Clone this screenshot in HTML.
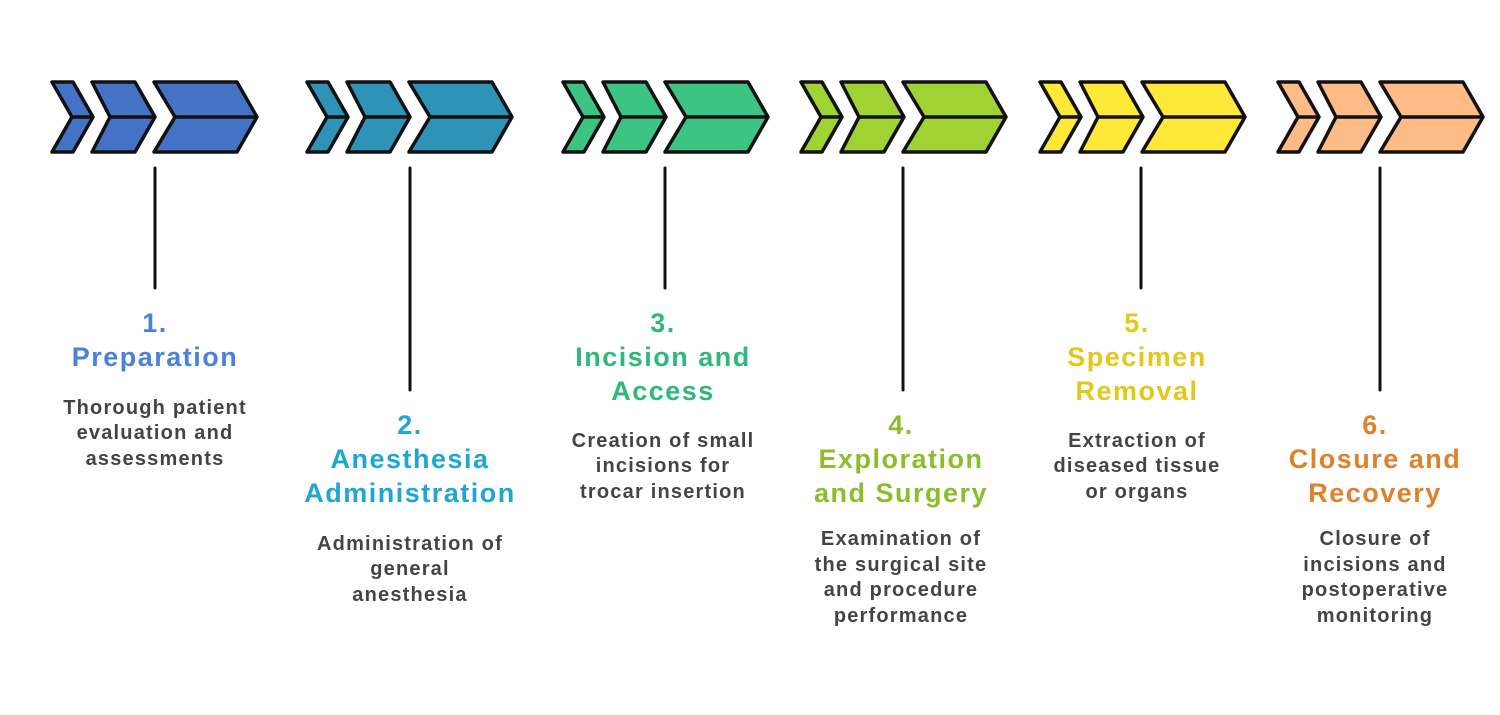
<!DOCTYPE html>
<html><head><meta charset="utf-8"><style>
html,body{margin:0;padding:0;background:#fff;}
svg{display:block;}
.t{font-family:"Liberation Sans",sans-serif;font-weight:bold;font-size:27px;letter-spacing:1.5px;text-anchor:middle;dominant-baseline:central;}
.d{font-family:"Liberation Sans",sans-serif;font-weight:bold;font-size:20px;letter-spacing:1.2px;fill:#444;text-anchor:middle;dominant-baseline:central;}
</style></head><body>
<svg width="1500" height="715" viewBox="0 0 1500 715" xmlns="http://www.w3.org/2000/svg">
<defs>
<g id="chev" stroke="#111" stroke-width="3.5" stroke-linejoin="round">
<polygon points="0,0 21,0 41,35 21,70 0,70 20,35"/>
<polygon points="40,0 83,0 103,35 83,70 40,70 58,35"/>
<polygon points="102,0 185,0 205,35 185,70 102,70 123,35"/>
<path d="M20,35 H41 M58,35 H103 M123,35 H205" fill="none"/>
</g>
</defs>
<g stroke="#111" stroke-width="3" stroke-linecap="round">
<line x1="155" y1="168" x2="155" y2="288"/>
<line x1="410" y1="168" x2="410" y2="390"/>
<line x1="665" y1="168" x2="665" y2="288"/>
<line x1="903" y1="168" x2="903" y2="390"/>
<line x1="1141" y1="168" x2="1141" y2="288"/>
<line x1="1380" y1="168" x2="1380" y2="390"/>
</g>
<use href="#chev" x="52" y="82" fill="#4472c4"/>
<use href="#chev" x="307" y="82" fill="#2e93b6"/>
<use href="#chev" x="563" y="82" fill="#3cc484"/>
<use href="#chev" x="801" y="82" fill="#9fd232"/>
<use href="#chev" x="1040" y="82" fill="#ffe838"/>
<use href="#chev" x="1278" y="82" fill="#ffbb85"/>

<text x="155" y="323" class="t" fill="#4a80e0">1.</text>
<text x="155" y="357" class="t" fill="#4a80e0">Preparation</text>
<text class="d" x="155" y="408">Thorough patient</text>
<text class="d" x="155" y="433">evaluation and</text>
<text class="d" x="155" y="459">assessments</text>

<text x="410" y="425" class="t" fill="#1fa5d8">2.</text>
<text x="410" y="459" class="t" fill="#1fa5d8">Anesthesia</text>
<text x="410" y="493" class="t" fill="#1fa5d8">Administration</text>
<text class="d" x="410" y="544">Administration of</text>
<text class="d" x="410" y="569">general</text>
<text class="d" x="410" y="595">anesthesia</text>

<text x="663" y="323" class="t" fill="#2eb87a">3.</text>
<text x="663" y="357" class="t" fill="#2eb87a">Incision and</text>
<text x="663" y="391" class="t" fill="#2eb87a">Access</text>
<text class="d" x="663" y="441">Creation of small</text>
<text class="d" x="663" y="466">incisions for</text>
<text class="d" x="663" y="492">trocar insertion</text>

<text x="901" y="425" class="t" fill="#8cbd2a">4.</text>
<text x="901" y="459" class="t" fill="#8cbd2a">Exploration</text>
<text x="901" y="493" class="t" fill="#8cbd2a">and Surgery</text>
<text class="d" x="901" y="539">Examination of</text>
<text class="d" x="901" y="565">the surgical site</text>
<text class="d" x="901" y="590">and procedure</text>
<text class="d" x="901" y="616">performance</text>

<text x="1137" y="323" class="t" fill="#e3c81a">5.</text>
<text x="1137" y="357" class="t" fill="#e3c81a">Specimen</text>
<text x="1137" y="391" class="t" fill="#e3c81a">Removal</text>
<text class="d" x="1137" y="441">Extraction of</text>
<text class="d" x="1137" y="466">diseased tissue</text>
<text class="d" x="1137" y="492">or organs</text>

<text x="1375" y="425" class="t" fill="#e0802a">6.</text>
<text x="1375" y="459" class="t" fill="#e0802a">Closure and</text>
<text x="1375" y="493" class="t" fill="#e0802a">Recovery</text>
<text class="d" x="1375" y="539">Closure of</text>
<text class="d" x="1375" y="565">incisions and</text>
<text class="d" x="1375" y="590">postoperative</text>
<text class="d" x="1375" y="616">monitoring</text>
</svg>
</body></html>
